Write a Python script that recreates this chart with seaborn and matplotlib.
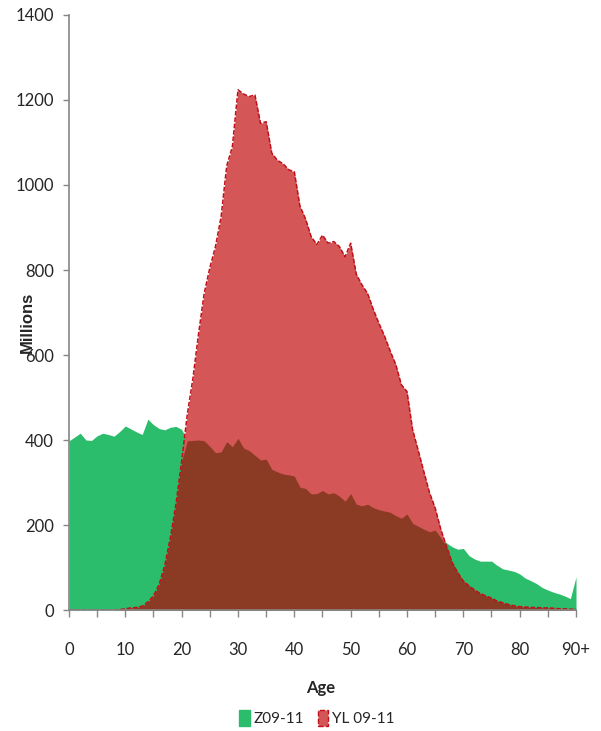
import numpy as np
import pandas as pd
import seaborn as sns
import matplotlib.pyplot as plt
from matplotlib.patches import Patch

# 年龄 0..90（90 = 90+）
ages = list(range(0, 91))

# Z09-11（百万）
z_vals = [398, 407, 416, 400, 399, 410, 416, 413, 409, 420,
          433, 426, 419, 413, 449, 436, 427, 424, 430, 432,
          425, 398, 399, 400, 398, 385, 370, 372, 396, 384,
          404, 381, 375, 364, 353, 355, 331, 325, 320, 318,
          315, 289, 286, 273, 274, 281, 273, 276, 268, 256,
          274, 249, 245, 249, 241, 236, 233, 230, 222, 216,
          226, 204, 197, 190, 184, 188, 170, 158, 149, 143,
          145, 128, 120, 115, 115, 115, 105, 97, 94, 91,
          85, 75, 69, 62, 53, 47, 42, 38, 33, 27,
          78]

# YL 09-11（百万）
yl_vals = [0, 0, 0, 0, 0, 0, 0, 0, 0, 1,
           3, 5, 6, 9, 19, 33, 60, 105, 170, 250,
           350, 460, 545, 650, 745, 805, 855, 925, 1045, 1090,
           1224, 1214, 1208, 1212, 1145, 1149, 1075, 1058, 1050, 1036,
           1031, 950, 920, 878, 860, 882, 863, 867, 855, 831,
           863, 790, 765, 745, 708, 675, 645, 610, 578, 530,
           514, 424, 375, 325, 276, 240, 190, 150, 112, 88,
           68, 57, 47, 39, 33, 28, 21, 17, 13, 10,
           8, 7, 6, 6, 5, 5, 4, 3, 3, 2,
           2]

x_ticks = [0, 10, 20, 30, 40, 50, 60, 70, 80, 90]
x_tick_labels = ['0', '10', '20', '30', '40', '50', '60', '70', '80', '90+']
y_ticks = [0, 200, 400, 600, 800, 1000, 1200, 1400]

df = pd.DataFrame({'age': ages, 'Z': z_vals, 'YL': yl_vals})
df['both'] = np.minimum(df['Z'], df['YL'])

sns.set_style('white')
plt.rcParams['font.family'] = ['Lato', 'DejaVu Sans']

c_green = '#2BBD6B'
c_red = '#D45656'
c_brown = '#8B3B23'
c_line = '#C0101A'
c_axis = '#868686'

fig = plt.figure(figsize=(6.01, 7.31), dpi=100)
ax = fig.add_axes([0.1148, 0.1655, 0.8436, 0.814])

ax.fill_between(df['age'], 0, df['Z'], color=c_green, lw=0)
ax.fill_between(df['age'], 0, df['YL'], color=c_red, lw=0)
ax.fill_between(df['age'], 0, df['both'], color=c_brown, lw=0)
sns.lineplot(data=df, x='age', y='YL', ax=ax, color=c_line, lw=1.1,
             linestyle=(0, (3, 1.2)), legend=False)

ax.set_xlim(0, 90)
ax.set_ylim(0, 1400)
ax.set_xticks(x_ticks)
ax.set_xticklabels(x_tick_labels)
ax.set_xticks(range(5, 90, 10), minor=True)
ax.set_yticks(y_ticks)

for s in ['top', 'right']:
    ax.spines[s].set_visible(False)
for s in ['left', 'bottom']:
    ax.spines[s].set_color(c_axis)
    ax.spines[s].set_linewidth(1.2)

ax.tick_params(axis='y', which='both', left=True, length=4, width=1,
               color=c_axis, labelsize=12, pad=7)
ax.tick_params(axis='x', which='both', bottom=True, length=5, width=1,
               color=c_axis, labelsize=12, pad=18)

ax.set_xlabel('Age', fontsize=12, fontweight='bold')
ax.xaxis.set_label_coords(0.497, -0.117)
ax.set_ylabel('Millions', fontsize=12, fontweight='bold',
              family=['Liberation Sans', 'DejaVu Sans'])
ax.yaxis.set_label_coords(-0.068, 0.484)

handles = [Patch(facecolor=c_green, edgecolor=c_green, label='Z09-11'),
           Patch(facecolor=c_red, edgecolor=c_line, linestyle='--', lw=1,
                 label='YL 09-11')]
fig.legend(handles=handles, loc='center', bbox_to_anchor=(0.527, 0.018),
           ncol=2, frameon=False, fontsize=11, handlelength=0.7,
           handleheight=1.2, handletextpad=0.25, columnspacing=0.9)

plt.savefig('out.png', dpi=100)
